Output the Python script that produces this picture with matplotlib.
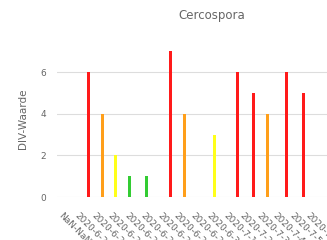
import numpy as np
import matplotlib.pyplot as plt

dates = ['NaN-NaN', '2020-6-22', '2020-6-23', '2020-6-24', '2020-6-25', '2020-6-26',
         '2020-6-27', '2020-6-28', '2020-6-29', '2020-6-30', '2020-7-1', '2020-7-2',
         '2020-7-3', '2020-7-4', '2020-7-5', '2020-7-6']

# one bar per observation: date, DIV value, class (0=red, 1=orange, 2=yellow, 3=green)
bar_dates = ['2020-6-22', '2020-6-23', '2020-6-24', '2020-6-25', '2020-6-26', '2020-6-27',
             '2020-6-28', '2020-6-30', '2020-7-1', '2020-7-2', '2020-7-3', '2020-7-4', '2020-7-5']
bar_values = [6, 4, 2, 1, 1, 7, 4, 3, 6, 5, 4, 6, 5]
bar_class = [0, 1, 2, 3, 3, 0, 1, 2, 0, 0, 1, 0, 0]

class_colors = ['#ff1a1a', '#ff9f1a', '#ffff1a', '#33cc33']

fig = plt.figure(figsize=(3.27, 2.40), dpi=100)
ax = fig.add_axes([0.174, 0.179, 0.826, 0.65])

idx = np.array([dates.index(d) for d in bar_dates])
cls = np.array(bar_class)
xpos = idx + 0.55 - 0.17 * cls
ax.bar(xpos, bar_values, width=0.18, color=[class_colors[c] for c in cls], zorder=3)

ax.set_xlim(-0.36, 16.0)
ax.set_ylim(0, 7.5)
ax.set_yticks([0, 2, 4, 6])
ax.set_xticks(range(len(dates)))
ax.set_xticklabels(dates, rotation=-45, ha='left', va='top', rotation_mode='anchor',
                   fontsize=6.5, color='#666666')
ax.tick_params(axis='x', length=0, pad=10)
ax.tick_params(axis='y', length=0, pad=8, labelsize=6.5, labelcolor='#666666')
ax.grid(axis='y', color='#dddddd', linewidth=0.8, zorder=0)
for s in ax.spines.values():
    s.set_visible(False)

ax.set_ylabel('DIV-Waarde', fontsize=7.5, color='#666666', labelpad=9)
fig.text(0.648, 0.935, 'Cercospora', ha='center', va='center', fontsize=8.5, color='#666666')

fig.savefig('out.png', dpi=100)
